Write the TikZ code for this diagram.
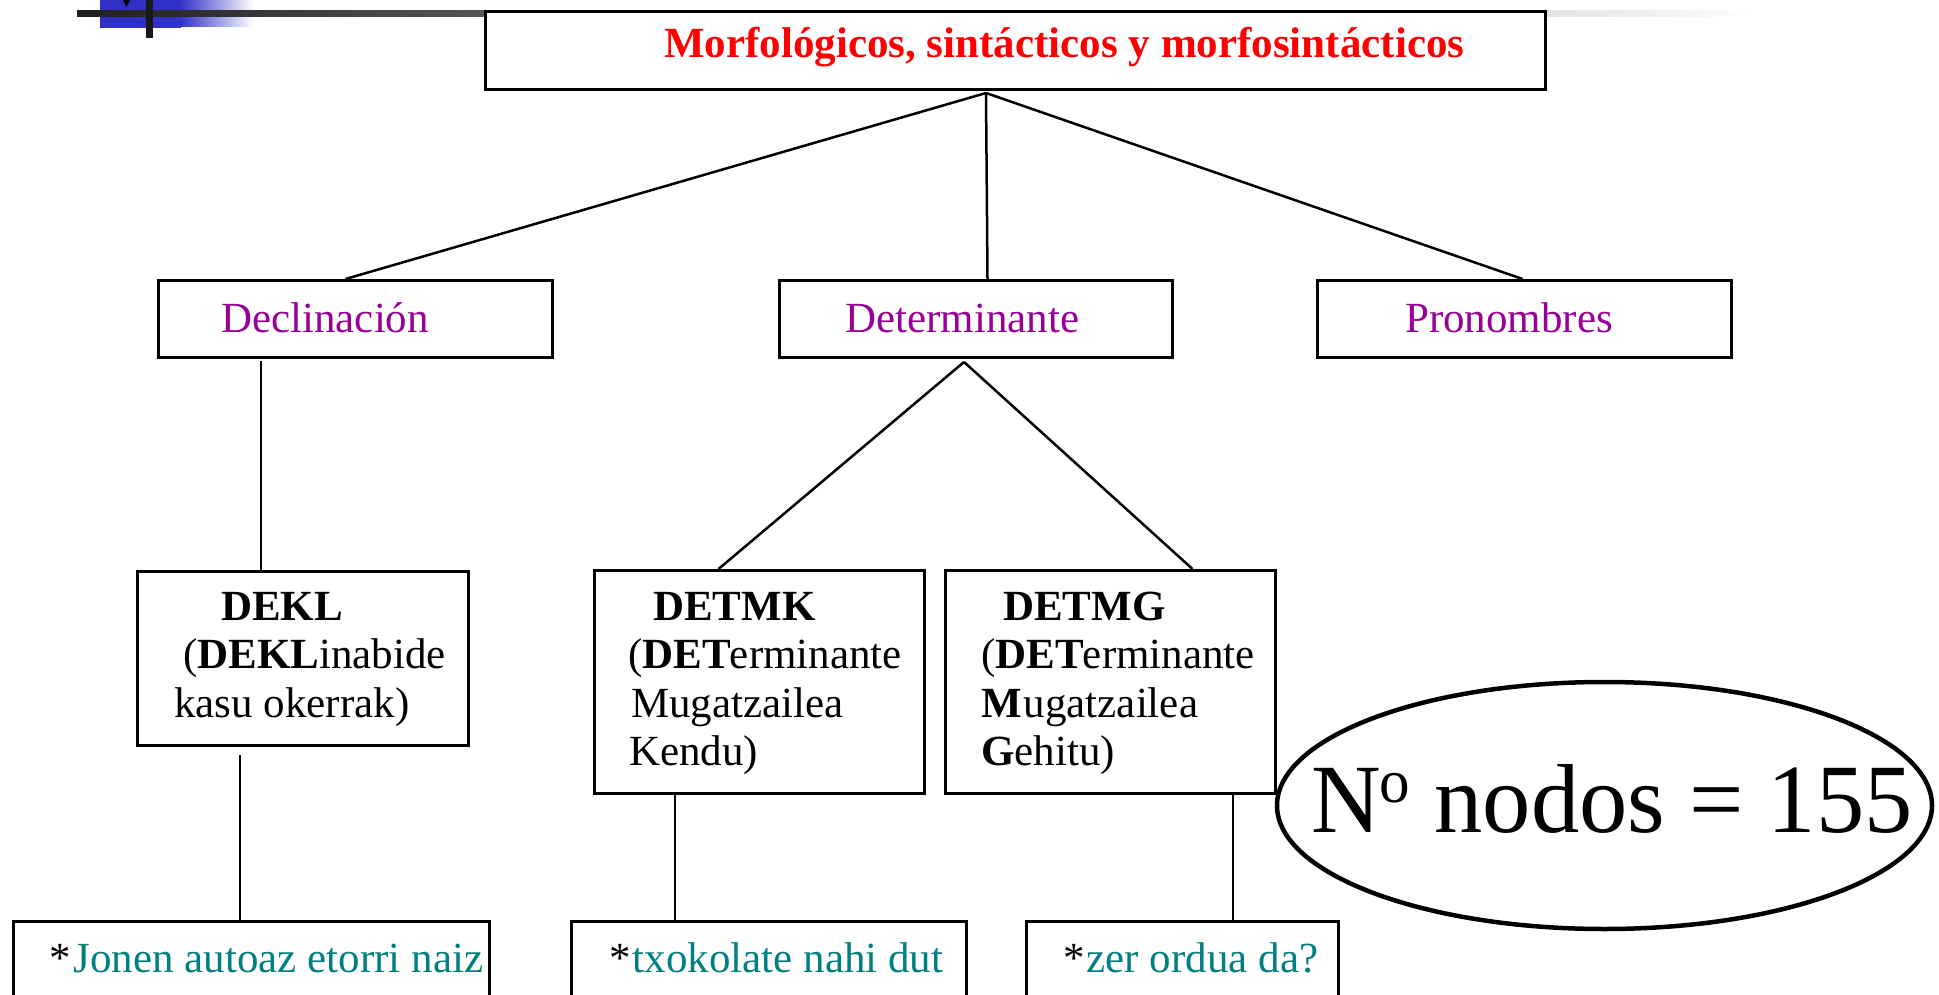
\documentclass[tikz,border=0pt]{standalone}
\usepackage{fontspec}
\setmainfont{Liberation Serif}
\usetikzlibrary{calc,shapes.geometric}
\definecolor{ttlred}{HTML}{FF0000}
\definecolor{catpurple}{HTML}{990099}
\definecolor{exteal}{HTML}{008080}
\definecolor{logoblue}{HTML}{3030C8}
\begin{document}
\begin{tikzpicture}[x=1pt,y=-1pt,
  box/.style={draw=black, line width=3pt, fill=white, inner sep=0pt, anchor=north west},
  link/.style={draw=black, line width=2.5pt},
  txt/.style={inner sep=0pt, anchor=base west, font=\fontsize{43}{50}\selectfont},
  cat/.style={txt, text=catpurple},
  ex/.style={txt},
]
\useasboundingbox (0,0) rectangle (1939,995);
\clip (0,0) rectangle (1939,995);
% --- decoration at top left ---
\fill[logoblue] (100,0) rectangle (181,28);
\shade[left color=logoblue, right color=white] (180,0) rectangle (253,27);
\shade[left color=black!88, right color=white] (77,11) rectangle (1760,17);
\fill[black] (123,0) -- (130,0) -- (126.5,7) -- cycle;
\fill[black!90] (146,0) rectangle (153,38);
% --- boxes ---
\node[box, minimum width=1060pt, minimum height=78pt] (top) at (484,10) {};
\node[box, minimum width=394pt, minimum height=77pt] (decl) at (157,279) {};
\node[box, minimum width=393pt, minimum height=77pt] (detr) at (778,279) {};
\node[box, minimum width=414pt, minimum height=77pt] (pron) at (1316,279) {};
\node[box, minimum width=331pt, minimum height=174pt] (dekl) at (136,570) {};
\node[box, minimum width=330pt, minimum height=223pt] (detmk) at (593,569) {};
\node[box, minimum width=330pt, minimum height=223pt] (detmg) at (944,569) {};
\node[box, minimum width=476pt, minimum height=110pt] (ex1) at (12,920) {};
\node[box, minimum width=395pt, minimum height=110pt] (ex2) at (570,920) {};
\node[box, minimum width=312pt, minimum height=110pt] (ex3) at (1025,920) {};
\node[draw=black, ellipse, line width=4.5pt, inner sep=0pt, minimum width=655pt, minimum height=247pt] (count) at (1604.5,805.5) {};
% --- texts ---
\node[txt, text=ttlred, font=\bfseries\fontsize{43}{50}\selectfont] (title) at (664,58) {Morfológicos, sintácticos y morfosintácticos};
\node[cat] (declt) at (221,332) {Declinación};
\node[cat] (detrt) at (845,332) {Determinante};
\node[cat] (pront) at (1405,332) {Pronombres};
\node[txt] (dekl1) at (221,620) {\textbf{DEKL}};
\node[txt] (dekl2) at (183,668) {(\textbf{DEKL}inabide};
\node[txt] (dekl3) at (174,717) {kasu okerrak)};
\node[txt] (detmk1) at (653,620) {\textbf{DETMK}};
\node[txt] (detmk2) at (628,668) {(\textbf{DET}\kern-1pt erminante};
\node[txt] (detmk3) at (631,717) {Mugatzailea};
\node[txt] (detmk4) at (629,765) {Kendu)};
\node[txt] (detmg1) at (1003,620) {\textbf{DETMG}};
\node[txt] (detmg2) at (981,668) {(\textbf{DET}\kern-1pt erminante};
\node[txt] (detmg3) at (981,717) {\textbf{M}\kern2pt ugatzailea};
\node[txt] (detmg4) at (981,765) {\textbf{G}ehitu)};
\node[ex] (ex1t) at (49,972) {*\kern3pt\textcolor{exteal}{Jonen autoaz etorri naiz}};
\node[ex] (ex2t) at (609,972) {*\kern2pt\textcolor{exteal}{txokolate nahi dut}};
\node[ex] (ex3t) at (1063,972) {*\kern2pt\textcolor{exteal}{zer ordua da?}};
\node[inner sep=0pt, anchor=base west, font=\fontsize{98}{110}\selectfont] (countt) at (1311,832)
  {\scalebox{0.985}[1]{N\kern-1pt\raisebox{30pt}{\fontsize{62}{62}\selectfont o} nodos = 155}};
% --- connectors ---
\coordinate (apex) at (986,93);
\draw[link] (apex) -- ([xshift=-10pt]decl.north);
\draw[link] (apex) -- ([xshift=11.5pt]detr.north);
\draw[link] (apex) -- ([xshift=-2pt]pron.north);
\coordinate (dapex) at (964,362);
\draw[link] (dapex) -- ([xshift=-41pt]detmk.north);
\draw[link] (dapex) -- ([xshift=82pt]detmg.north);
\coordinate (s1) at (261,361);
\draw[link] (s1) -- (s1 |- dekl.north);
\coordinate (s2) at (240,755);
\draw[link] (s2) -- (s2 |- ex1.north);
\coordinate (s3) at (675,795);
\draw[link] (s3) -- (s3 |- ex2.north);
\coordinate (s4) at (1233,795);
\draw[link] (s4) -- (s4 |- ex3.north);
\end{tikzpicture}
\end{document}
